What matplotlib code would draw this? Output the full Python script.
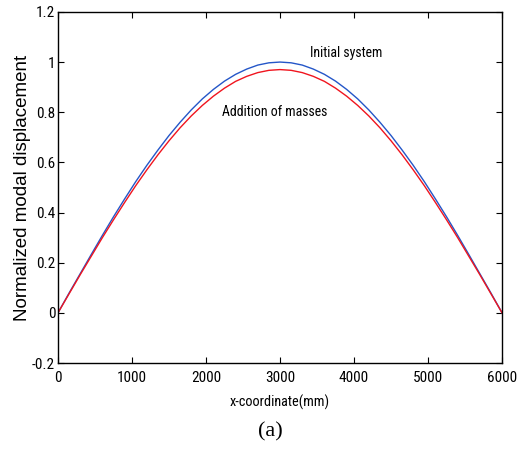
import matplotlib.pyplot as plt

x_mm = [0, 150, 300, 450, 600, 750, 900, 1050, 1200, 1350, 1500, 1650, 1800, 1950,
        2100, 2250, 2400, 2550, 2700, 2850, 3000, 3150, 3300, 3450, 3600, 3750, 3900,
        4050, 4200, 4350, 4500, 4650, 4800, 4950, 5100, 5250, 5400, 5550, 5700, 5850, 6000]
initial = [0, 0.079, 0.156, 0.233, 0.309, 0.383, 0.454, 0.523, 0.588, 0.649, 0.707,
           0.760, 0.809, 0.853, 0.891, 0.924, 0.951, 0.972, 0.988, 0.997, 1.000,
           0.997, 0.988, 0.972, 0.951, 0.924, 0.891, 0.853, 0.809, 0.760, 0.707,
           0.649, 0.588, 0.523, 0.454, 0.383, 0.309, 0.233, 0.156, 0.079, 0]
masses = [0, 0.076, 0.152, 0.226, 0.300, 0.371, 0.440, 0.507, 0.570, 0.630, 0.686,
          0.738, 0.785, 0.827, 0.864, 0.896, 0.923, 0.943, 0.958, 0.967, 0.970,
          0.967, 0.958, 0.943, 0.923, 0.896, 0.864, 0.827, 0.785, 0.738, 0.686,
          0.630, 0.570, 0.507, 0.440, 0.371, 0.300, 0.226, 0.152, 0.076, 0]

narrow = ['Roboto Condensed', 'Archivo Narrow', 'DejaVu Sans']

fig = plt.figure(figsize=(5.2, 4.49), dpi=100)
ax = fig.add_axes([0.1115, 0.1915, 0.854, 0.782])
ax.plot(x_mm, initial, color='#2456c8', lw=1.0)
ax.plot(x_mm, masses, color='#f0141e', lw=1.0)

ax.set_xlim(0, 6000)
ax.set_ylim(-0.2, 1.2)
ax.set_xticks(range(0, 6001, 1000))
ax.set_yticks([-0.2, 0, 0.2, 0.4, 0.6, 0.8, 1, 1.2])
ax.set_yticklabels(['-0.2', '0', '0.2', '0.4', '0.6', '0.8', '1', '1.2'])
ax.tick_params(direction='in', top=True, right=True, length=4, width=0.8)
ax.tick_params(axis='x', pad=6)
ax.tick_params(axis='y', pad=2)
for lab in ax.get_xticklabels() + ax.get_yticklabels():
    lab.set_family(narrow)
    lab.set_fontsize(11)
for s in ax.spines.values():
    s.set_linewidth(1.0)

ax.text(3900, 1.036, 'Initial system', ha='center', va='center', fontsize=10, family=narrow)
ax.text(2930, 0.80, 'Addition of masses', ha='center', va='center', fontsize=10, family=narrow)

ax.set_xlabel('x-coordinate(mm)', fontsize=10.3, family=narrow, labelpad=7)
ax.set_ylabel('Normalized modal displacement', fontsize=13.5, family=['Liberation Sans', 'DejaVu Sans'], labelpad=1)
fig.text(0.519, 0.038, '(a)', ha='center', va='center', fontsize=16, family=['Liberation Serif', 'DejaVu Serif'])

fig.savefig('out.png', dpi=100)
